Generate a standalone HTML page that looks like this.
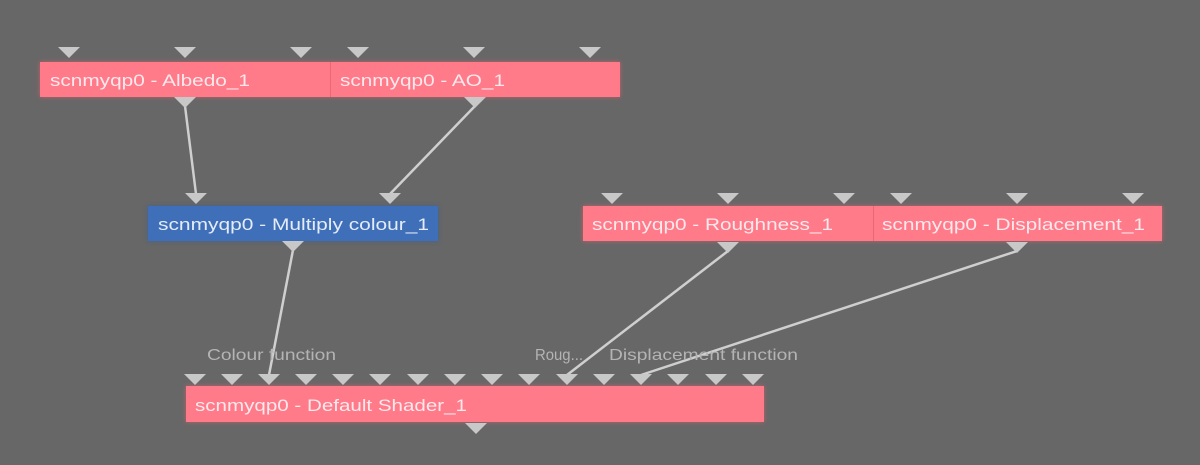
<!DOCTYPE html>
<html><head><meta charset="utf-8"><style>
html,body{margin:0;padding:0;background:#676767;}
svg{display:block}
text{font-family:"Liberation Sans",sans-serif;}
</style></head><body>
<svg width="1200" height="465" viewBox="0 0 1200 465" xmlns="http://www.w3.org/2000/svg">
<defs>
<filter id="g" x="-10%" y="-50%" width="120%" height="200%"><feGaussianBlur stdDeviation="2.5"/></filter>
</defs>
<rect width="1200" height="465" fill="#676767"/>
<g fill="#ff5a70" opacity="0.6" filter="url(#g)">
<rect x="40" y="62" width="580" height="35"/>
<rect x="583" y="206" width="579" height="35"/>
<rect x="186" y="386" width="578" height="36"/>
</g>
<rect x="148" y="206" width="290" height="35" fill="#2a5aa0" opacity="0.6" filter="url(#g)"/>
<g fill="#ff7b8a">
<rect x="40" y="62" width="290" height="35"/>
<rect x="331" y="62" width="289" height="35"/>
<rect x="583" y="206" width="290" height="35"/>
<rect x="874" y="206" width="288" height="35"/>
<rect x="186" y="386" width="578" height="36"/>
</g>
<rect x="330" y="62" width="1" height="35" fill="#e56a78"/>
<rect x="873" y="206" width="1" height="35" fill="#e56a78"/>
<rect x="148" y="206" width="290" height="35" fill="#3f6fb8"/>
<g stroke="#cfcfcf" stroke-width="2.5" fill="none">
<line x1="185" y1="106" x2="196" y2="194"/>
<line x1="475" y1="106" x2="390" y2="194"/>
<line x1="293" y1="250" x2="269" y2="375"/>
<line x1="728" y1="251" x2="567" y2="375"/>
<line x1="1017" y1="251" x2="641" y2="375"/>
</g>
<g fill="#c8c8c8">
<path d="M58 47h22l-11 11z"/><path d="M174 47h22l-11 11z"/><path d="M290 47h22l-11 11z"/>
<path d="M347 47h22l-11 11z"/><path d="M463 47h22l-11 11z"/><path d="M579 47h22l-11 11z"/>
<path d="M174 97h22l-11 11z"/><path d="M464 97h22l-11 11z"/>
<path d="M185 193h22l-11 11z"/><path d="M379 193h22l-11 11z"/><path d="M282 241h22l-11 11z"/>
<path d="M601 193h22l-11 11z"/><path d="M717 193h22l-11 11z"/><path d="M833 193h22l-11 11z"/>
<path d="M890 193h22l-11 11z"/><path d="M1006 193h22l-11 11z"/><path d="M1122 193h22l-11 11z"/>
<path d="M717 242h22l-11 11z"/><path d="M1006 242h22l-11 11z"/>
<path d="M184 374h22l-11 11z"/><path d="M221 374h22l-11 11z"/><path d="M258 374h22l-11 11z"/><path d="M295 374h22l-11 11z"/>
<path d="M332 374h22l-11 11z"/><path d="M369 374h22l-11 11z"/><path d="M407 374h22l-11 11z"/><path d="M444 374h22l-11 11z"/>
<path d="M481 374h22l-11 11z"/><path d="M518 374h22l-11 11z"/><path d="M556 374h22l-11 11z"/><path d="M593 374h22l-11 11z"/>
<path d="M630 374h22l-11 11z"/><path d="M667 374h22l-11 11z"/><path d="M705 374h22l-11 11z"/><path d="M742 374h22l-11 11z"/>
<path d="M465 423h22l-11 11z"/>
</g>
<g fill="#fde8ec" font-size="17">
<text x="50" y="86" textLength="200" lengthAdjust="spacingAndGlyphs">scnmyqp0 - Albedo_1</text>
<text x="340" y="86" textLength="165" lengthAdjust="spacingAndGlyphs">scnmyqp0 - AO_1</text>
<text x="158" y="230" fill="#e4ecf8" textLength="271" lengthAdjust="spacingAndGlyphs">scnmyqp0 - Multiply colour_1</text>
<text x="592" y="230" textLength="241" lengthAdjust="spacingAndGlyphs">scnmyqp0 - Roughness_1</text>
<text x="882" y="230" textLength="263" lengthAdjust="spacingAndGlyphs">scnmyqp0 - Displacement_1</text>
<text x="195" y="411" textLength="272" lengthAdjust="spacingAndGlyphs">scnmyqp0 - Default Shader_1</text>
</g>
<g fill="#b4b4b4" font-size="16">
<text x="207" y="360" textLength="129" lengthAdjust="spacingAndGlyphs">Colour function</text>
<text x="535" y="360" textLength="48" lengthAdjust="spacingAndGlyphs">Roug...</text>
<text x="609" y="360" textLength="189" lengthAdjust="spacingAndGlyphs">Displacement function</text>
</g>
</svg>
</body></html>
